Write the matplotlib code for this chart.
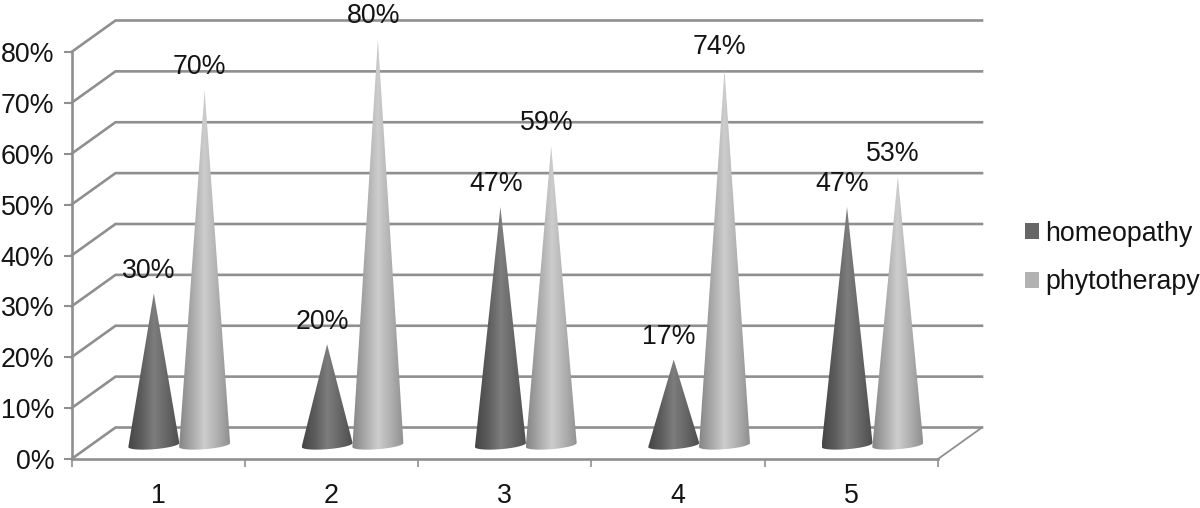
import numpy as np
import matplotlib
matplotlib.use("Agg")
import matplotlib.pyplot as plt
from matplotlib.patches import Polygon, Patch
from matplotlib.colors import LinearSegmentedColormap

categories = [1, 2, 3, 4, 5]
series_names = ["homeopathy", "phytotherapy"]
homeopathy = [30, 20, 47, 17, 47]
phytotherapy = [70, 80, 59, 74, 53]
y_ticks = [0, 10, 20, 30, 40, 50, 60, 70, 80]

plt.rcParams["font.family"] = ["Liberation Sans", "DejaVu Sans"]
W, H = 1200, 508
fig = plt.figure(figsize=(W / 100, H / 100), dpi=100)
L, R, T, B = 71.5, 938, 52, 459
ax = fig.add_axes([L / W, 1 - B / H, (R - L) / W, (B - T) / H])
ax.set_xlim(0.5, 5.5)
ax.set_ylim(0, 80)
ax.patch.set_visible(False)

GRID = "#8f8f8f"
TXT = "#141414"
FS = 19.3
px_x = 5 / (R - L)
px_y = 80 / (B - T)
depth_x = 44 * px_x
depth_y = 31.5 * px_y

for s in ("top", "right"):
    ax.spines[s].set_visible(False)
for s in ("left", "bottom"):
    ax.spines[s].set_color(GRID)
    ax.spines[s].set_linewidth(1.9)

ax.set_yticks(y_ticks, [f"{v}%" for v in y_ticks])
ax.set_xticks(categories, [str(c) for c in categories])
ax.set_xticks([0.5, 1.5, 2.5, 3.5, 4.5, 5.5], minor=True)
ax.tick_params(axis="y", length=6, width=1.5, color=GRID, pad=6.5, labelsize=FS, labelcolor=TXT)
ax.tick_params(axis="x", which="major", length=0, pad=17, labelsize=FS, labelcolor=TXT)
ax.tick_params(axis="x", which="minor", length=6, width=1.2, color=GRID)

for v in y_ticks:
    ax.plot([0.5, 0.5 + depth_x, 5.5 + depth_x], [v, v + depth_y, v + depth_y],
            color=GRID, lw=1.9, clip_on=False, zorder=1, solid_joinstyle="miter")
ax.plot([5.5, 5.5 + depth_x], [0, depth_y], color=GRID, lw=1.3, clip_on=False, zorder=1)

dark_cmap = LinearSegmentedColormap.from_list("d", ["#454545", "#5c5c5c", "#7d7d7d", "#666666", "#4d4d4d"])
light_cmap = LinearSegmentedColormap.from_list("l", ["#858585", "#a8a8a8", "#cdcdcd", "#b0b0b0", "#8f8f8f"])
base_level = 13 * px_y
half_w = 25.5 * px_x
grad = np.linspace(0, 1, 256).reshape(1, -1)


def cone(xc, value, cmap, z):
    tip = base_level + value
    t = np.linspace(np.pi, 2 * np.pi, 40)
    xs = xc + half_w * np.cos(t)
    ys = base_level + (2.0 + 2.0 * np.cos(t) + 4.2 * np.sin(t)) * px_y - 1 * px_y
    verts = np.column_stack([np.r_[xs, xc], np.r_[ys, tip]])
    poly = Polygon(verts, closed=True, transform=ax.transData, facecolor="none", edgecolor="none")
    ax.add_patch(poly)
    poly.set_clip_on(False)
    im = ax.imshow(grad, cmap=cmap, extent=[xc - half_w, xc + half_w, ys.min(), tip],
                   aspect="auto", zorder=z, interpolation="bilinear", origin="lower")
    im.set_clip_box(fig.bbox)
    im.set_clip_path(poly)
    ax.annotate(f"{value}%", (xc, tip), xytext=(-3.4, 16.3), textcoords="offset points",
                ha="center", va="center", fontsize=FS, color=TXT, zorder=10, annotation_clip=False)


for c, h, p in zip(categories, homeopathy, phytotherapy):
    cone(c - 0.025, h, dark_cmap, 3)
    cone(c + 0.268, p, light_cmap, 4)

ax.set_xlim(0.5, 5.5)
ax.set_ylim(0, 80)

handles = [Patch(facecolor="#666666", edgecolor="none"), Patch(facecolor="#b2b2b2", edgecolor="none")]
ax.legend(handles, series_names, loc="center left", bbox_to_anchor=(1025 / W, 1 - 258 / H),
          bbox_transform=fig.transFigure, frameon=False, fontsize=FS, labelcolor=TXT,
          borderaxespad=0, borderpad=0, handlelength=0.54, handleheight=0.58,
          handletextpad=0.2, labelspacing=0.85)

fig.savefig("out.png", dpi=100)
